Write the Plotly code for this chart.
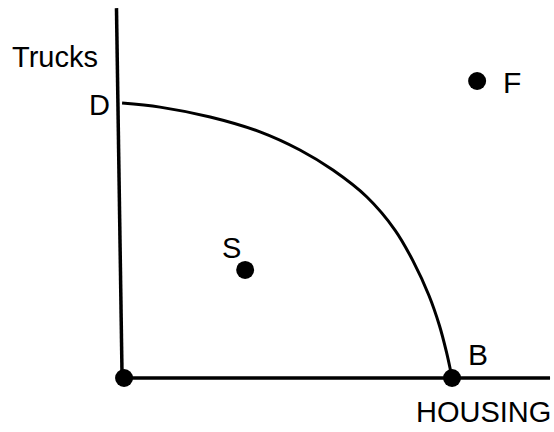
import plotly.graph_objects as go

# PPF curve points (housing, trucks)
curve_x = [0, 1.15, 2.67, 4.18, 5.39, 6.39, 7.42, 8.27, 8.82, 9.30, 9.62, 9.83, 9.95, 10]
curve_y = [10, 9.85, 9.49, 8.95, 8.29, 7.56, 6.58, 5.38, 4.25, 3.00, 1.90, 0.95, 0.30, 0]

# axes
axis_v_x = [-0.17, 0]
axis_v_y = [13.45, 0]
axis_h_x = [0, 12.97]
axis_h_y = [0, 0]

# dots: origin, B, S, F
dot_x = [0.06, 10, 3.73, 10.76]
dot_y = [0, 0, 3.93, 10.8]

# labels
label_text = ["Trucks", "D", "S", "F", "B", "HOUSING"]
label_x = [-2.03, -0.67, 3.33, 11.82, 10.79, 10.94]
label_y = [11.67, 9.93, 4.73, 10.76, 0.84, -1.24]
label_size = [29, 29, 29, 30, 30, 29]

fig = go.Figure()
fig.add_trace(go.Scatter(x=axis_v_x, y=axis_v_y, mode="lines",
                         line=dict(color="black", width=3.5)))
fig.add_trace(go.Scatter(x=axis_h_x, y=axis_h_y, mode="lines",
                         line=dict(color="black", width=3.5)))
fig.add_trace(go.Scatter(x=curve_x, y=curve_y, mode="lines",
                         line=dict(color="black", width=3, shape="spline")))
fig.add_trace(go.Scatter(x=dot_x, y=dot_y, mode="markers",
                         marker=dict(color="black", size=18)))

for t, x, y, s in zip(label_text, label_x, label_y, label_size):
    fig.add_annotation(x=x, y=y, text=t, showarrow=False,
                       font=dict(family="Liberation Sans, Arial", size=s, color="black"))

fig.update_layout(
    width=554, height=432,
    margin=dict(l=0, r=0, t=0, b=0),
    paper_bgcolor="white", plot_bgcolor="white",
    showlegend=False,
    xaxis=dict(range=[-3.70, 13.09], visible=False),
    yaxis=dict(range=[-1.964, 13.745], visible=False),
)

# drop the page's default body margin so the figure fills the window
fig.write_html("out.html", config={"displayModeBar": False},
               post_script="document.body.style.margin='0';document.body.style.overflow='hidden';")
